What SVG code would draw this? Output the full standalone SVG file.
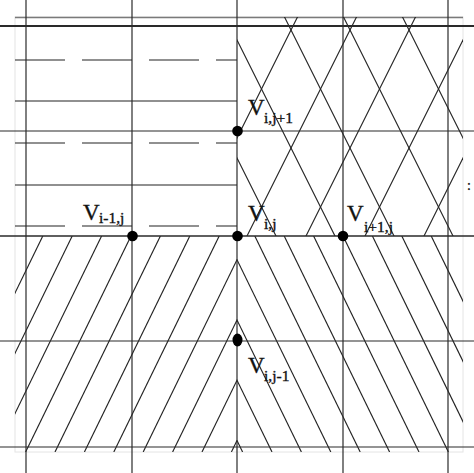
<svg xmlns="http://www.w3.org/2000/svg" width="474" height="473" viewBox="0 0 474 473">
<style>
.g{stroke:#2a2a2a;stroke-width:1.2;fill:none}
.h{stroke:#222;stroke-width:1.15;fill:none}
.dash{stroke-dasharray:50 17}
.t{font-family:"Liberation Serif","Times New Roman",serif;fill:#111;stroke:#111;stroke-width:0.35}
.V{font-size:23px}
.s{font-size:15.5px}
.dot{fill:#000}
</style>
<defs>
<clipPath id="tr"><rect x="237" y="17" width="226" height="219"/></clipPath>
<clipPath id="bl"><rect x="15" y="236" width="222" height="216"/></clipPath>
<clipPath id="br"><rect x="237" y="236" width="226" height="216"/></clipPath>
</defs>
<rect width="474" height="473" fill="#fff"/>
<rect x="15" y="17" width="448" height="435" fill="none" stroke="#e4e4e4"/>
<line x1="15" y1="17.5" x2="463" y2="17.5" stroke="#7a7a7a" stroke-width="1.3"/>

<g id="top-left-hatch" class="h">
<line class="dash" x1="15" y1="60" x2="237" y2="60"/>
<line x1="15" y1="101" x2="237" y2="101"/>
<line class="dash" x1="15" y1="143" x2="237" y2="143"/>
<line x1="15" y1="185" x2="237" y2="185"/>
<line class="dash" x1="15" y1="226" x2="237" y2="226"/>
</g>

<g id="top-right-hatch" class="h" clip-path="url(#tr)">
<line x1="158" y1="0" x2="278" y2="240"/>
<line x1="217" y1="0" x2="337" y2="240"/>
<line x1="276" y1="0" x2="396" y2="240"/>
<line x1="335" y1="0" x2="455" y2="240"/>
<line x1="394" y1="0" x2="514" y2="240"/>
<line x1="306" y1="0" x2="186" y2="240"/>
<line x1="365" y1="0" x2="245" y2="240"/>
<line x1="424" y1="0" x2="304" y2="240"/>
<line x1="483" y1="0" x2="363" y2="240"/>
<line x1="542" y1="0" x2="422" y2="240"/>
</g>

<g id="bottom-left-hatch" class="h" clip-path="url(#bl)">
<line x1="42.8" y1="236" x2="-62.6" y2="452"/>
<line x1="72.2" y1="236" x2="-33.2" y2="452"/>
<line x1="101.6" y1="236" x2="-3.8" y2="452"/>
<line x1="131" y1="236" x2="25.6" y2="452"/>
<line x1="160.4" y1="236" x2="55" y2="452"/>
<line x1="189.8" y1="236" x2="84.4" y2="452"/>
<line x1="219.2" y1="236" x2="113.8" y2="452"/>
<line x1="248.6" y1="236" x2="143.2" y2="452"/>
<line x1="278" y1="236" x2="172.6" y2="452"/>
<line x1="307.4" y1="236" x2="202" y2="452"/>
<line x1="336.8" y1="236" x2="231.4" y2="452"/>
</g>

<g id="bottom-right-hatch" class="h" clip-path="url(#br)">
<line x1="431.2" y1="236" x2="536.6" y2="452"/>
<line x1="401.8" y1="236" x2="507.2" y2="452"/>
<line x1="372.4" y1="236" x2="477.8" y2="452"/>
<line x1="343" y1="236" x2="448.4" y2="452"/>
<line x1="313.6" y1="236" x2="419" y2="452"/>
<line x1="284.2" y1="236" x2="389.6" y2="452"/>
<line x1="254.8" y1="236" x2="360.2" y2="452"/>
<line x1="225.4" y1="236" x2="330.8" y2="452"/>
<line x1="196" y1="236" x2="301.4" y2="452"/>
<line x1="166.6" y1="236" x2="272" y2="452"/>
<line x1="137.2" y1="236" x2="242.6" y2="452"/>
</g>

<g id="grid" class="g">
<line x1="26" y1="0" x2="26" y2="473"/>
<line x1="132" y1="0" x2="132" y2="473"/>
<line x1="237" y1="0" x2="237" y2="473"/>
<line x1="343" y1="0" x2="343" y2="473"/>
<line x1="448" y1="0" x2="448" y2="473"/>
<line x1="0" y1="26" x2="474" y2="26" stroke-width="1.8"/>
<line x1="0" y1="131" x2="474" y2="131"/>
<line x1="0" y1="236" x2="474" y2="236" stroke-width="1.5"/>
<line x1="0" y1="341" x2="474" y2="341"/>
<line x1="0" y1="447" x2="474" y2="447"/>
</g>

<g id="v-im1-j">
<circle class="dot" cx="132.5" cy="236" r="5.3"/>
<text class="t V" x="83" y="220">V</text><text class="t s" x="99" y="223">i-1,j</text>
</g>
<g id="v-i-j">
<circle class="dot" cx="237.5" cy="236" r="5.3"/>
<text class="t V" x="248" y="221">V</text><text class="t s" x="264" y="229">i,j</text>
</g>
<g id="v-ip1-j">
<circle class="dot" cx="343" cy="236" r="5.3"/>
<text class="t V" x="347" y="221">V</text><text class="t s" x="364" y="232">i+1,j</text>
</g>
<g id="v-i-jp1">
<circle class="dot" cx="237.5" cy="131" r="5.3"/>
<text class="t V" x="248" y="115">V</text><text class="t s" x="264" y="123">i,j+1</text>
</g>
<g id="v-i-jm1">
<ellipse class="dot" cx="237.5" cy="340" rx="5" ry="6.5"/>
<text class="t V" x="248" y="373">V</text><text class="t s" x="264" y="381">i,j-1</text>
</g>
<text class="t" x="467" y="190" font-size="14">:</text>
</svg>
